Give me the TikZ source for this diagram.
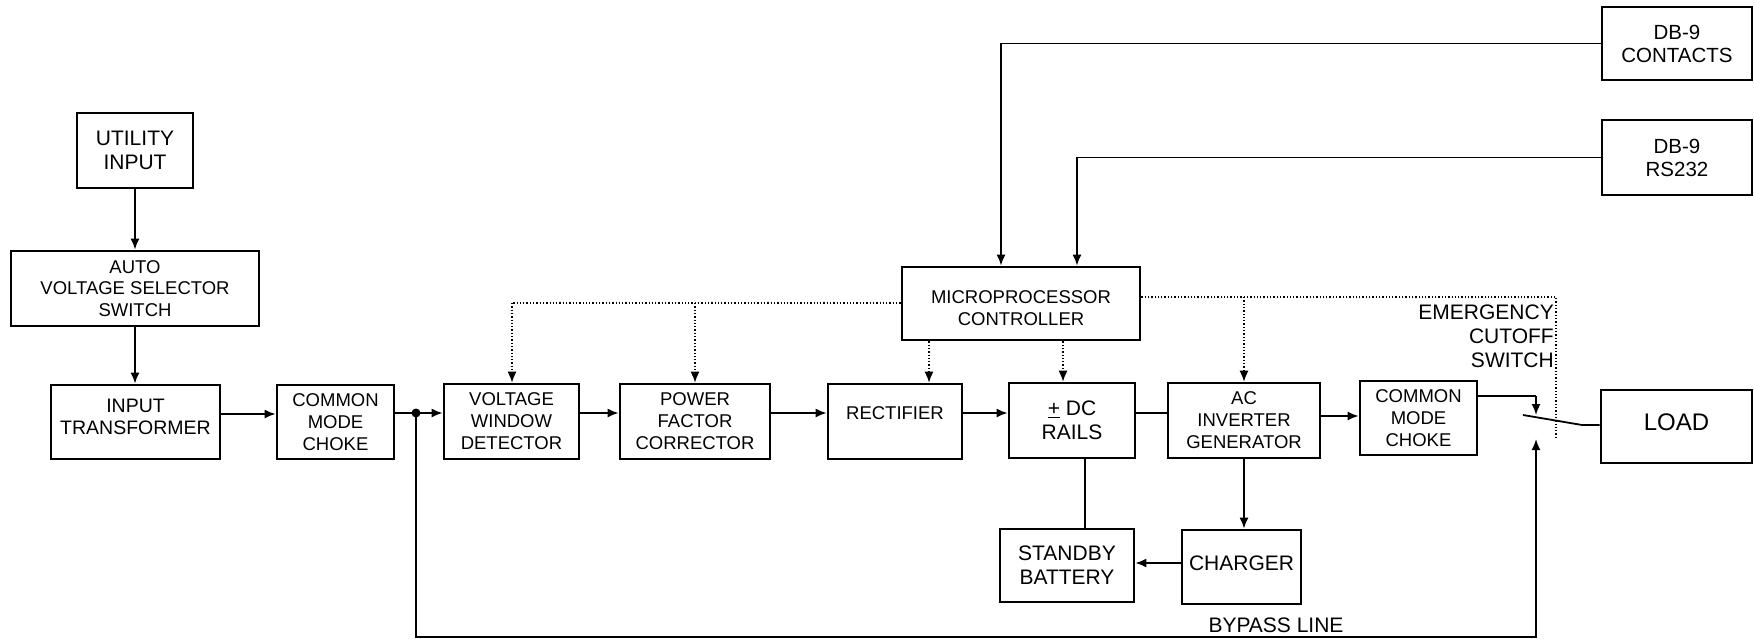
\documentclass[tikz,border=0pt]{standalone}
\usepackage{fontspec}
\setmainfont{Liberation Sans}
\usetikzlibrary{arrows.meta}
\newcommand\fsS{\fontsize{18.5}{22}\selectfont}
\newcommand\fsA{\fontsize{18.5}{21.5}\selectfont}
\newcommand\fsM{\fontsize{19.5}{22.5}\selectfont}
\newcommand\fsD{\fontsize{20.5}{23}\selectfont}
\newcommand\fsL{\fontsize{21}{24}\selectfont}
\newcommand\fsX{\fontsize{24}{26}\selectfont}
\newcommand\up[2]{\raisebox{#1}[\height][\depth]{#2}}
\begin{document}
\begin{tikzpicture}[x=1pt,y=-1pt,
  box/.style={draw, line width=2.7pt, align=center, inner sep=0pt},
  conn/.style={line width=1.8pt},
  arr/.style={conn, -{Latex[length=11pt,width=9pt]}},
  dotl/.style={line width=1.3pt, dash pattern=on 1.3pt off 2pt},
  darr/.style={dotl, -{Latex[length=11pt,width=9pt]}}]
\useasboundingbox (0,0) rectangle (1754,638);
% boxes
\node[box,minimum width=116pt,minimum height=75pt,font=\fsL] (util) at (135,150.5) {UTILITY\\INPUT};
\node[box,minimum width=248pt,minimum height=75pt,font=\fsA] (avss) at (135,288.5) {AUTO\\VOLTAGE SELECTOR\\SWITCH};
\node[box,minimum width=169pt,minimum height=74pt,font=\fsM] (itrans) at (135.5,422) {\up{5pt}{INPUT}\\\up{5pt}{TRANSFORMER}};
\node[box,minimum width=117pt,minimum height=74pt,font=\fsS] (cmc1) at (335.5,422) {COMMON\\MODE\\CHOKE};
\node[box,minimum width=135pt,minimum height=75pt,font=\fsS] (vwd) at (511.5,421.5) {VOLTAGE\\WINDOW\\DETECTOR};
\node[box,minimum width=150pt,minimum height=75pt,font=\fsS] (pfc) at (695,421.5) {POWER\\FACTOR\\CORRECTOR};
\node[box,minimum width=134pt,minimum height=75pt,font=\fsS] (rect) at (895,421.5) {\up{8pt}{RECTIFIER}};
\node[box,minimum width=126pt,minimum height=75pt,font=\fsL] (dcr) at (1072,420.5) {\underline{+} DC\\RAILS};
\node[box,minimum width=152pt,minimum height=75pt,font=\fsS] (acinv) at (1244,420.5) {AC\\INVERTER\\GENERATOR};
\node[box,minimum width=117pt,minimum height=74pt,font=\fsS] (cmc2) at (1418.5,418) {COMMON\\MODE\\CHOKE};
\node[box,minimum width=151pt,minimum height=73pt,font=\fsX] (load) at (1676.5,426.5) {\up{4pt}{LOAD}};
\node[box,minimum width=150pt,minimum height=73pt,font=\fsD] (db9c) at (1677,43.5) {DB-9\\CONTACTS};
\node[box,minimum width=150pt,minimum height=75pt,font=\fsD] (db9r) at (1677,157.5) {DB-9\\RS232};
\node[box,minimum width=238pt,minimum height=73pt,font=\fsS] (micro) at (1021,303.5) {\up{-5pt}{MICROPROCESSOR}\\\up{-5pt}{CONTROLLER}};
\node[box,minimum width=134pt,minimum height=73pt,font=\fsL] (batt) at (1067,565.5) {STANDBY\\BATTERY};
\node[box,minimum width=119pt,minimum height=74pt,font=\fsL] (charger) at (1241.5,567) {\up{4pt}{CHARGER}};
% texts
\node[font=\fsL,align=right,anchor=east,inner sep=0pt] (emer) at (1554,336) {EMERGENCY\\CUTOFF\\SWITCH};
\node[font=\fsL,inner sep=0pt] (byp) at (1276,625) {BYPASS LINE};
% coordinates
\coordinate (r1) at (0,414);
\coordinate (r) at (0,413);
\coordinate (r2) at (0,416);
\coordinate (j) at (416,413);
\coordinate (swA) at (1536,396);
\coordinate (swT) at (1536,415);
\coordinate (swP) at (1523,415);
\coordinate (swQ) at (1582,425);
\coordinate (swB) at (1536,439);
\coordinate (bpL) at (416,637);
\coordinate (bpR) at (1536,637);
\coordinate (dR) at (0,297);
\coordinate (dL) at (0,303);
\coordinate (eA) at (1556,297);
\coordinate (eB) at (1556,437);
\coordinate (dV) at (512,303);
\coordinate (xR) at (929,0);
\coordinate (xD) at (1063,0);
\coordinate (xB) at (1085,0);
\coordinate (c1) at (1001,43.5);
\coordinate (c2) at (1077,157.5);
\coordinate (yC) at (0,563);
% vertical chain
\draw[arr] (util) -- (avss);
\draw[arr] (avss.south) -- (avss.south |- itrans.north);
% main row
\draw[arr] (itrans.east |- r1) -- (cmc1.west |- r1);
\draw[conn] (cmc1.east |- j) -- (j);
\draw[arr] (j) -- (vwd.west |- j);
\fill (j) circle (4.5);
\draw[arr] (vwd.east |- r) -- (pfc.west |- r);
\draw[arr] (pfc.east |- r) -- (rect.west |- r);
\draw[arr] (rect.east |- r) -- (dcr.west |- r);
\draw[conn] (dcr.east |- r) -- (acinv.west |- r);
\draw[arr] (acinv.east |- r2) -- (cmc2.west |- r2);
% switch
\draw[conn] (cmc2.east |- swA) -- (swA);
\draw[arr] (swA) -- (swT);
\draw[conn] (swP) -- (swQ) -- (load.west |- swQ);
% bypass
\draw[arr] (j) -- (bpL) -- (bpR) -- (swB);
% battery/charger
\draw[arr] (acinv.south) -- (acinv.south |- charger.north);
\draw[arr] (charger.west |- yC) -- (batt.east |- yC);
\draw[conn] (dcr.south -| xB) -- (batt.north -| xB);
% DB-9
\draw[arr] (db9c.west) -- (c1) -- (micro.north -| c1);
\draw[arr] (db9r.west) -- (c2) -- (micro.north -| c2);
% dotted control lines
\draw[dotl] (micro.west |- dL) -- (dV);
\draw[darr] (dV) -- (vwd.north -| dV);
\draw[darr] (pfc.north |- dL) -- (pfc.north);
\draw[darr] (micro.south -| xR) -- (rect.north -| xR);
\draw[darr] (micro.south -| xD) -- (dcr.north -| xD);
\draw[dotl] (micro.east |- dR) -- (eA) -- (eB);
\draw[darr] (acinv.north |- dR) -- (acinv.north);
\end{tikzpicture}
\end{document}
